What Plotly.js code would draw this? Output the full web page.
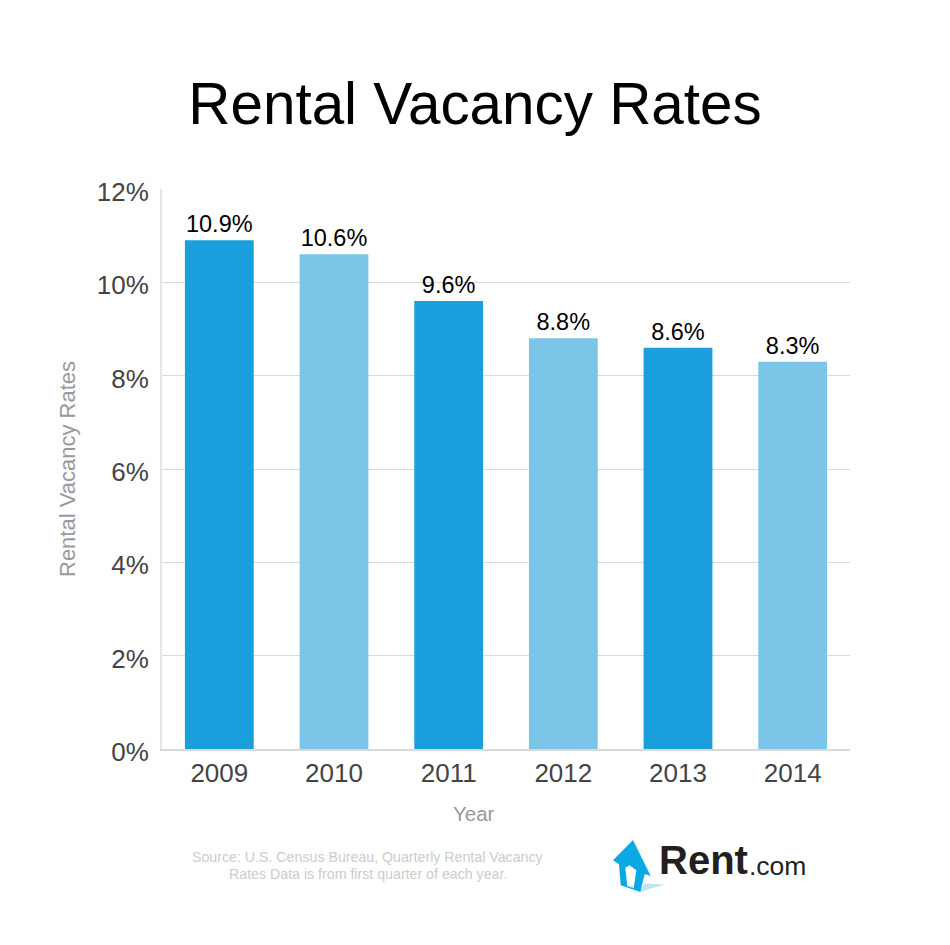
<!DOCTYPE html>
<html><head><meta charset="utf-8">
<script src="https://cdn.plot.ly/plotly-3.0.1.min.js"></script>
<style>html,body{margin:0;padding:0;background:#fff}#c{width:950px;height:945px}</style>
</head><body><div id="c"></div>
<script>
const years = ["2009","2010","2011","2012","2013","2014"];
const rates = [10.9,10.6,9.6,8.8,8.6,8.3];
const barColors = ["#1a9fdc","#7bc6e8","#1a9fdc","#7bc6e8","#1a9fdc","#7bc6e8"];
const yTicks = [0,2,4,6,8,10,12];
const yTickLabels = ["0%","2%","4%","6%","8%","10%","12%"];
const FONT = '"Liberation Sans", Arial, sans-serif';
const L=162,T=189,W=688,H=560;
const px = x => (x-L)/W, py = y => (749-y)/H;
const poly = (pts,fill) => ({type:"path",xref:"paper",yref:"paper",layer:"above",
  path:"M"+pts.map(p=>px(p[0])+","+py(p[1])).join(" L")+" Z",fillcolor:fill,line:{width:0}});
const note = (text,x,y,size,color,extra) => Object.assign({text,xref:"paper",yref:"paper",x:px(x),y:py(y),
  showarrow:false,font:{family:FONT,size,color},xanchor:"center",yanchor:"middle"},extra||{});

Plotly.newPlot("c",[{
  type:"bar",x:years,y:rates,
  marker:{color:barColors,line:{width:0}},
  text:rates.map(v=>v.toFixed(1)+"%"),textposition:"outside",cliponaxis:false,
  textfont:{family:FONT,size:23.5,color:"#000"},hoverinfo:"x+y"
}],{
  width:950,height:945,showlegend:false,paper_bgcolor:"#fff",plot_bgcolor:"#fff",
  margin:{l:L,r:950-L-W,t:T,b:945-T-H,pad:0},bargap:0.4,
  title:{text:"Rental Vacancy Rates",font:{family:FONT,size:58.4,color:"#000"},x:475/950,xanchor:"center",y:1-104/945,yanchor:"middle"},
  xaxis:{type:"category",tickfont:{family:FONT,size:26,color:"#444"},ticks:"",showgrid:false,zeroline:false,
    showline:true,linecolor:"#d9d9d9",linewidth:2},
  yaxis:{range:[0,12],tickmode:"array",tickvals:yTicks,ticktext:yTickLabels,tickfont:{family:FONT,size:26,color:"#444"},
    ticks:"",ticklabelstandoff:6,ticklabelshift:3,
    gridcolor:"#d9d9d9",gridwidth:1,zeroline:false,showline:true,linecolor:"#e5e5e5",linewidth:2},
  shapes:[
    poly([[628,886],[639.7,891],[644.7,883.3],[665.3,884.7],[649.7,888.7],[641,892]],"#bfe3f4"),
    poly([[633,840],[650.7,876],[644.7,874],[640.3,892],[620.7,885.3],[619,864.3],[613,860.3]],"#0aa9e3"),
    poly([[625.3,867.7],[629.5,865.3],[636.3,870.3],[634,886],[627.3,886]],"#ffffff"),
    poly([[627.3,886],[634,886],[634,888.5],[627.3,886.2]],"#bfe3f4")
  ],
  annotations:[
    note("Rental Vacancy Rates",67,469,22,"#999",{textangle:-90}),
    note("Year",474,813,20.5,"#999"),
    note("Source: U.S. Census Bureau, Quarterly Rental Vacancy",368,857,14.2,"#ccc"),
    note("Rates Data is from first quarter of each year.",368,874,14.2,"#ccc"),
    note("<b>Rent</b>",657,860,40,"#231f20",{xanchor:"left"}),
    note(".com",747,866,26.5,"#231f20",{xanchor:"left"})
  ]
},{displayModeBar:false,responsive:false});
</script></body></html>
